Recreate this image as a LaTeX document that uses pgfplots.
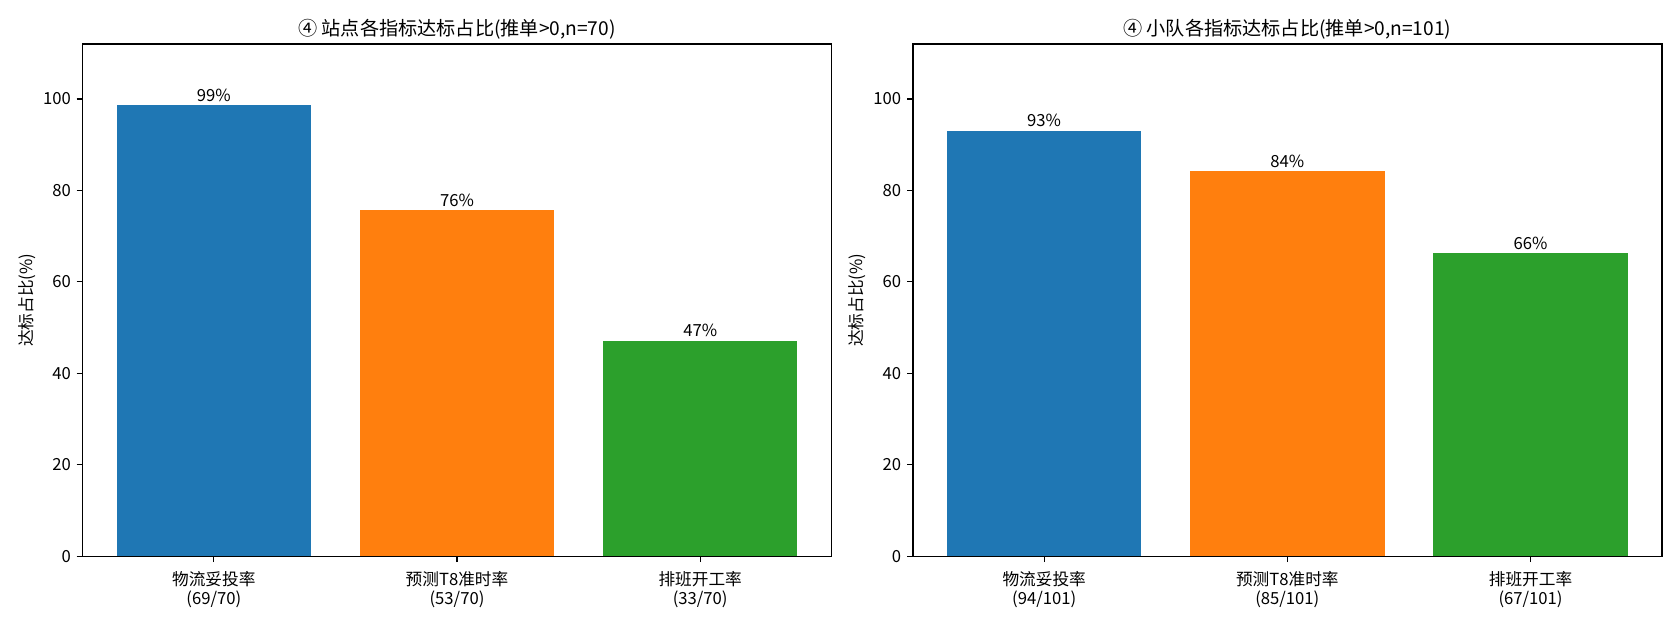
\documentclass[border=0pt]{standalone}
\usepackage{fontspec}
\setmainfont{Noto Sans CJK SC}
\usepackage{pgfplots}
\pgfplotsset{compat=1.18}
\definecolor{c1}{HTML}{1F77B4}
\definecolor{c2}{HTML}{FF7F0E}
\definecolor{c3}{HTML}{2CA02C}
\pgfplotsset{
 mybar/.style={
  width=449.4pt, height=307.3pt, scale only axis,
  anchor=south west,
  xmin=-0.54, xmax=2.54, ymin=0, ymax=112,
  ytick={0,20,40,60,80,100},
  xtick={0,1,2},
  tick align=outside, tick pos=left,
  major tick length=3.5pt,
  every tick/.style={black, line width=0.8pt},
  axis line style={line width=0.8pt},
  ybar, bar width=0.8, bar shift=0pt,
  enlargelimits=false,
  title style={font=\fontsize{11.5}{14}\selectfont, at={(0.5,1)}, anchor=center, yshift=3pt},
  tick label style={font=\fontsize{10}{11.3}\selectfont},
  xticklabel style={align=center, yshift=-2pt},
  ylabel style={font=\fontsize{10}{12}\selectfont, at={(axis description cs:-0.0743,0.5)}, anchor=center},
  /pgf/number format/assume math mode=true,
  point meta=explicit symbolic,
  nodes near coords={\pgfplotspointmeta},
  every node near coord/.append style={font=\fontsize{10}{12}\selectfont, black, yshift=-1.5pt},
  ylabel={达标占比(\%)},
 }
}
\begin{document}
\begin{tikzpicture}
\path[use as bounding box] (0,0) rectangle (1008pt,374.4pt);
\begin{axis}[mybar, at={(49.5pt,40.7pt)},
  title={④ 站点各指标达标占比(推单>0,n=70)},
  xticklabels={{物流妥投率\\(69/70)},{预测T8准时率\\(53/70)},{排班开工率\\(33/70)}}]
\addplot[fill=c1, draw=none] coordinates {(0,98.57) [99\%]};
\addplot[fill=c2, draw=none] coordinates {(1,75.71) [76\%]};
\addplot[fill=c3, draw=none] coordinates {(2,47.14) [47\%]};
\end{axis}
\begin{axis}[mybar, at={(547.7pt,40.7pt)},
  title={④ 小队各指标达标占比(推单>0,n=101)},
  xticklabels={{物流妥投率\\(94/101)},{预测T8准时率\\(85/101)},{排班开工率\\(67/101)}}]
\addplot[fill=c1, draw=none] coordinates {(0,93.07) [93\%]};
\addplot[fill=c2, draw=none] coordinates {(1,84.16) [84\%]};
\addplot[fill=c3, draw=none] coordinates {(2,66.34) [66\%]};
\end{axis}
\end{tikzpicture}
\end{document}
